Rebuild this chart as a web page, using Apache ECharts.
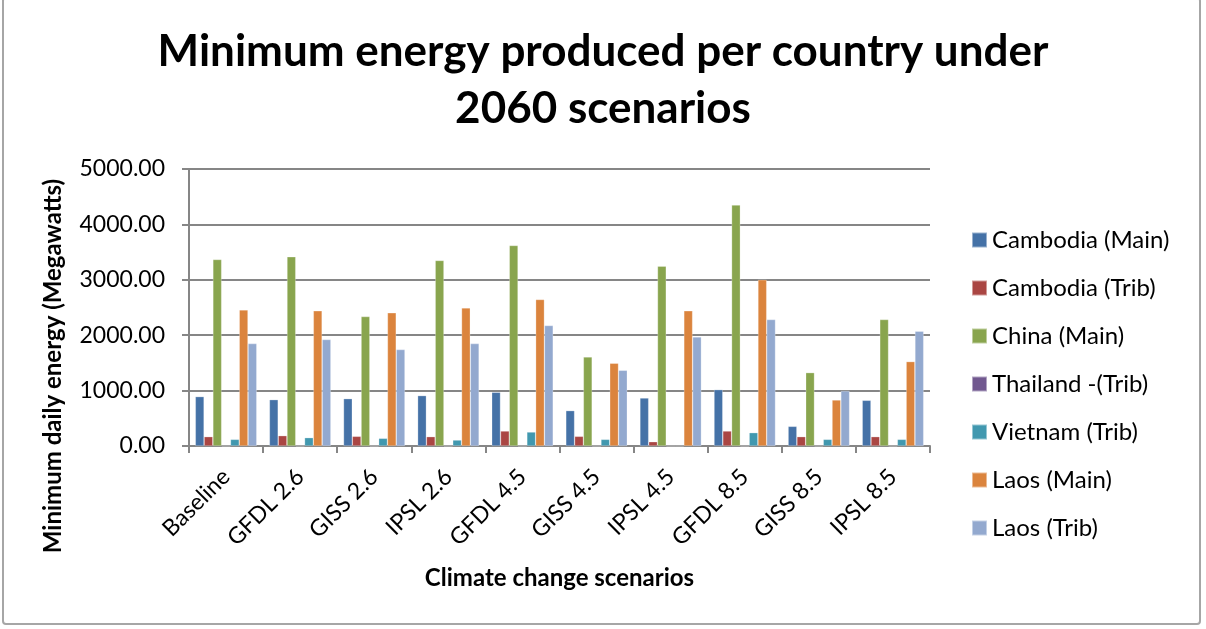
<!DOCTYPE html>
<html>
<head>
<meta charset="utf-8">
<script src="https://cdn.jsdelivr.net/npm/echarts@6/dist/echarts.min.js"></script>
<style>
html,body{margin:0;padding:0;background:#fff;}
#frame{position:absolute;left:2px;top:-3px;width:1199px;height:628px;border:2px solid #a6a6a6;border-radius:4px;box-sizing:border-box;}
#chart{position:absolute;left:0;top:0;width:1206px;height:629px;}
</style>
</head>
<body>
<div id="frame"></div>
<div id="chart"></div>
<script>
const categories = ['Baseline','GFDL 2.6','GISS 2.6','IPSL 2.6','GFDL 4.5','GISS 4.5','IPSL 4.5','GFDL 8.5','GISS 8.5','IPSL 8.5'];
const seriesNames = ['Cambodia (Main)','Cambodia (Trib)','China (Main)','Thailand -(Trib)','Vietnam (Trib)','Laos (Main)','Laos (Trib)'];
const cambodiaMain = [892, 837, 855, 910, 970, 639, 867, 1018, 355, 825];
const cambodiaTrib = [169, 187, 175, 169, 271, 175, 78, 271, 169, 169];
const chinaMain    = [3367, 3416, 2337, 3349, 3620, 1608, 3247, 4349, 1325, 2283];
const thailandTrib = [0, 0, 0, 0, 0, 0, 0, 0, 0, 0];
const vietnamTrib  = [120, 151, 139, 108, 253, 120, 0, 241, 120, 120];
const laosMain     = [2458, 2440, 2404, 2494, 2645, 1494, 2440, 3000, 831, 1524];
const laosTrib     = [1849, 1922, 1741, 1849, 2175, 1367, 1970, 2283, 994, 2072];
const yTicks = [0, 1000, 2000, 3000, 4000, 5000];
const yAxisTitle = 'Minimum daily energy (Megawatts)';
const colors = ['#4572A7','#AA4643','#89A54E','#71588F','#4198AF','#DB843D','#93A9CF'];

const allData = [cambodiaMain, cambodiaTrib, chinaMain, thailandTrib, vietnamTrib, laosMain, laosTrib];
const font = 'Lato, "Open Sans", sans-serif';

const chart = echarts.init(document.getElementById('chart'));
chart.setOption({
  animation: false,
  color: colors,
  title: {
    text: 'Minimum energy produced per country under\n2060 scenarios',
    left: 603, top: 23, textAlign: 'center', padding: 0,
    textStyle: {fontFamily: font, fontSize: 44, fontWeight: 'bold', color: '#000', lineHeight: 57}
  },
  legend: {
    orient: 'vertical', left: 971, top: 228, padding: 0,
    itemWidth: 15, itemHeight: 15, itemGap: 24,
    icon: 'rect',
    textStyle: {fontFamily: font, fontSize: 24, lineHeight: 24, color: '#000'},
    data: seriesNames
  },
  graphic: [{
    type: 'text', x: 53, y: 366, rotation: Math.PI / 2,
    style: {text: yAxisTitle, fontFamily: font, fontSize: 24, fontWeight: 'bold', fill: '#000',
      align: 'center', verticalAlign: 'middle'}
  }],
  grid: {left: 189, right: 276, top: 169, bottom: 183, containLabel: false},
  xAxis: {
    type: 'category', data: categories,
    name: 'Climate change scenarios', nameLocation: 'middle', nameGap: 120,
    nameTextStyle: {fontFamily: font, fontSize: 24, fontWeight: 'bold', color: '#000'},
    axisLine: {lineStyle: {color: '#868686', width: 2}},
    axisTick: {show: true, length: 7, lineStyle: {color: '#868686', width: 2}},
    axisLabel: {rotate: 45, fontFamily: font, fontSize: 23, color: '#000', margin: 27}
  },
  yAxis: {
    type: 'value', min: 0, max: 5000, interval: 1000,
    axisLine: {show: true, lineStyle: {color: '#868686', width: 2}},
    axisTick: {show: true, length: 7, lineStyle: {color: '#868686', width: 2}},
    splitLine: {lineStyle: {color: '#868686', width: 2}},
    axisLabel: {fontFamily: font, fontSize: 23, color: '#000', margin: 24,
      formatter: v => yTicks.includes(v) ? v.toFixed(2) : ''}
  },
  series: seriesNames.map((n, i) => ({
    name: n, type: 'bar', data: allData[i],
    barGap: '0%', barCategoryGap: '17%',
    itemStyle: {color: colors[i], borderColor: 'rgba(255,255,255,0.45)', borderWidth: 0.6}
  }))
});
</script>
</body>
</html>
